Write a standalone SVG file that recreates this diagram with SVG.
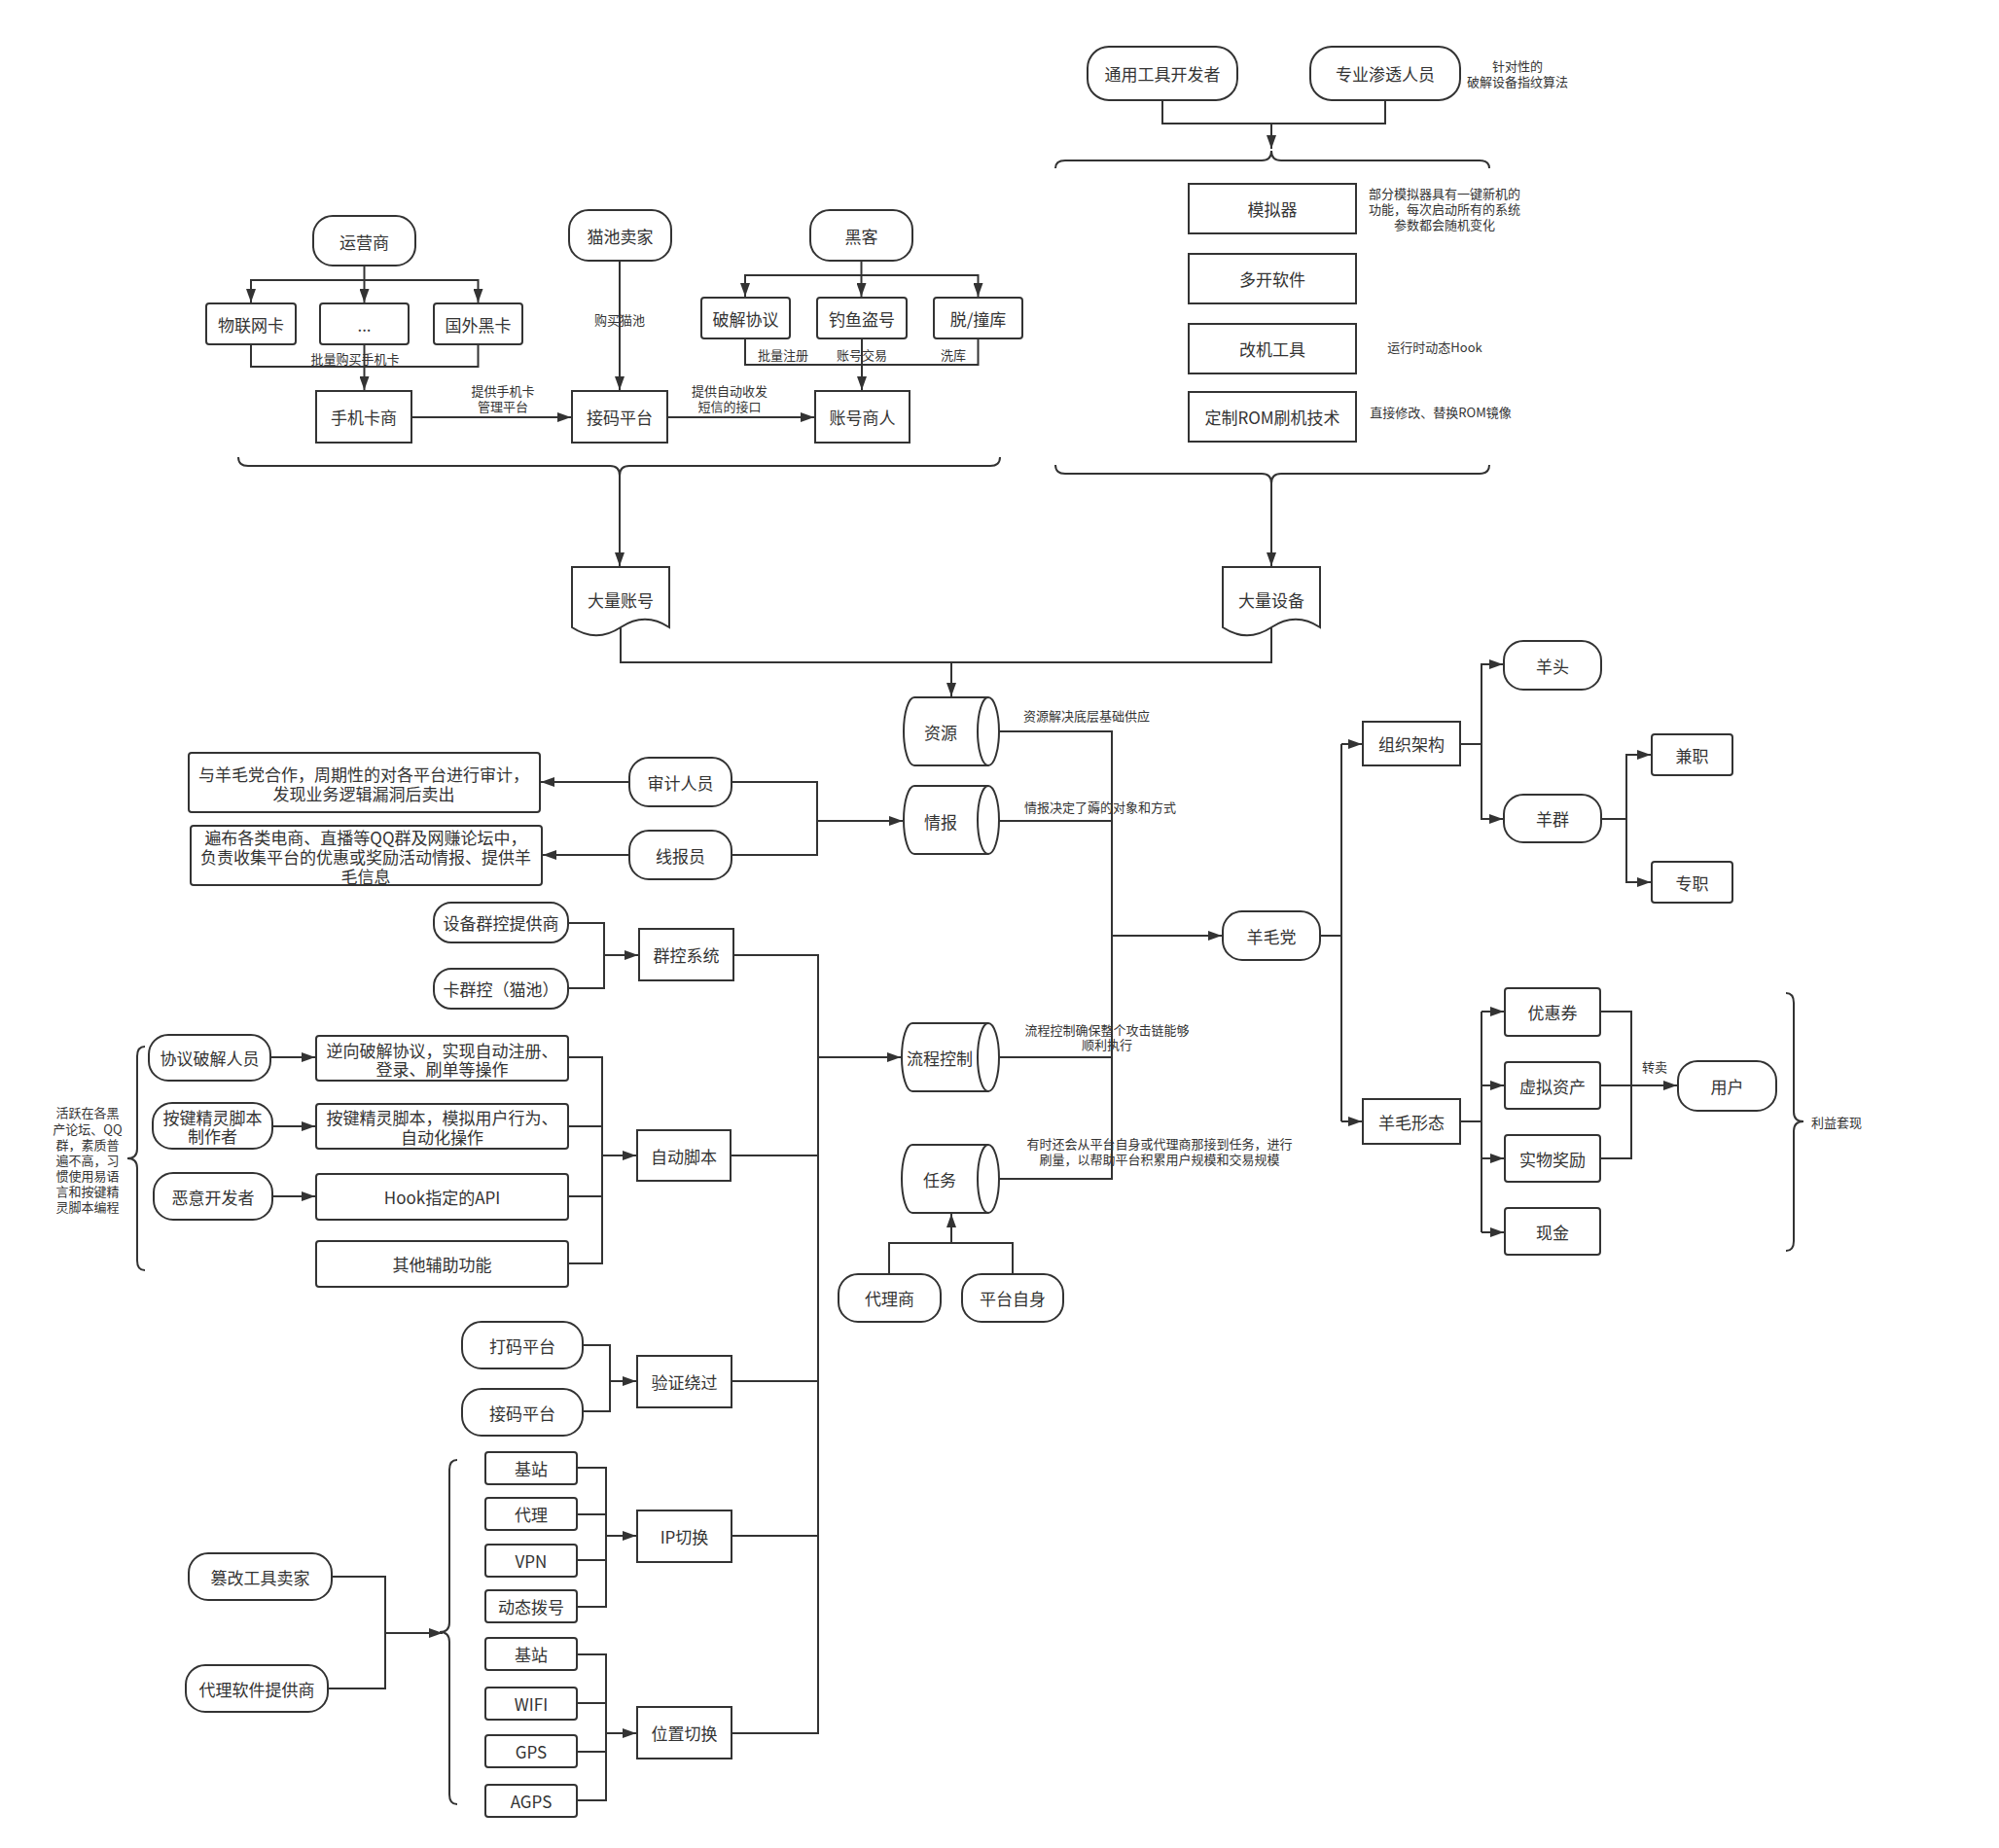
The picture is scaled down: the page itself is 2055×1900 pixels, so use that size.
<svg xmlns="http://www.w3.org/2000/svg" width="2055" height="1900" viewBox="0 0 2055 1900">
<style>
.n{fill:#fff;stroke:#333;stroke-width:2}
.c{fill:none;stroke:#333;stroke-width:2}
.t{font-family:"Noto Sans CJK SC","Open Sans",sans-serif;font-size:17px;fill:#333;text-anchor:middle;dominant-baseline:central}
.t tspan{dominant-baseline:central}
.s{font-size:13px}
</style>
<defs>
<marker id="a" markerUnits="userSpaceOnUse" markerWidth="14" markerHeight="10" viewBox="0 0 14 10" refX="14" refY="5" orient="auto"><path d="M0,0 L14,5 L0,10 Z" fill="#333"/></marker>
</defs>
<rect width="2055" height="1900" fill="#fff"/>

<g id="connectors">
<path class="c" d="M374.5,273 V311" marker-end="url(#a)"/>
<path class="c" d="M374.5,288 H258 V311" marker-end="url(#a)"/>
<path class="c" d="M374.5,288 H491.5 V311" marker-end="url(#a)"/>
<path class="c" d="M258,354 V377 H491.5 V354"/>
<path class="c" d="M374.5,354 V401" marker-end="url(#a)"/>
<path class="c" d="M423,429 H587" marker-end="url(#a)"/>
<path class="c" d="M637,268 V401" marker-end="url(#a)"/>
<path class="c" d="M686,429 H837" marker-end="url(#a)"/>
<path class="c" d="M885.5,268 V305" marker-end="url(#a)"/>
<path class="c" d="M885.5,283 H766 V305" marker-end="url(#a)"/>
<path class="c" d="M885.5,283 H1005.5 V305" marker-end="url(#a)"/>
<path class="c" d="M766,348 V375 H1005.5 V348"/>
<path class="c" d="M886,348 V401" marker-end="url(#a)"/>
<path class="c" d="M245,470 Q245,479 255,479 L627,479 Q637,479 637,489 Q637,479 647,479 L1018,479 Q1028,479 1028,470"/>
<path class="c" d="M637,489 V582" marker-end="url(#a)"/>
<path class="c" d="M1195,103 V127 H1424 V103"/>
<path class="c" d="M1307,127 V153" marker-end="url(#a)"/>
<path class="c" d="M1085,173 Q1085,165 1095,165 L1297,165 Q1307,165 1307,155 Q1307,165 1317,165 L1521,165 Q1531,165 1531,173"/>
<path class="c" d="M1085,478 Q1085,487 1095,487 L1297,487 Q1307,487 1307,497 Q1307,487 1317,487 L1521,487 Q1531,487 1531,478"/>
<path class="c" d="M1307,497 V582" marker-end="url(#a)"/>
<path class="c" d="M638,645 V681 H1307 V645"/>
<path class="c" d="M978,681 V716" marker-end="url(#a)"/>
<path class="c" d="M1027,752 H1143 V1212 H1027"/>
<path class="c" d="M1027,844 H1143"/>
<path class="c" d="M1027,1087 H1143"/>
<path class="c" d="M1143,962 H1256" marker-end="url(#a)"/>
<path class="c" d="M647,804 H556" marker-end="url(#a)"/>
<path class="c" d="M647,879 H558" marker-end="url(#a)"/>
<path class="c" d="M752,804 H840 V879 H752"/>
<path class="c" d="M840,844 H928" marker-end="url(#a)"/>
<path class="c" d="M584,949 H621 V1016 H584"/>
<path class="c" d="M621,982 H656" marker-end="url(#a)"/>
<path class="c" d="M754,982 H841 V1782 H752"/>
<path class="c" d="M841,1087 H926" marker-end="url(#a)"/>
<path class="c" d="M278,1087 H324" marker-end="url(#a)"/>
<path class="c" d="M280,1158 H324" marker-end="url(#a)"/>
<path class="c" d="M280,1230 H324" marker-end="url(#a)"/>
<path class="c" d="M584,1087 H619 V1299 H584"/>
<path class="c" d="M584,1158 H619"/>
<path class="c" d="M584,1230 H619"/>
<path class="c" d="M619,1188 H654" marker-end="url(#a)"/>
<path class="c" d="M751,1188 H841"/>
<path class="c" d="M149,1076 Q141,1076 141,1086 L141,1181 Q141,1191 131,1191 Q141,1191 141,1201 L141,1296 Q141,1306 149,1306"/>
<path class="c" d="M599,1383 H627 V1451 H599"/>
<path class="c" d="M627,1420 H654" marker-end="url(#a)"/>
<path class="c" d="M752,1420 H841"/>
<path class="c" d="M593,1509 H623 V1652 H593"/>
<path class="c" d="M593,1557 H623"/>
<path class="c" d="M593,1604 H623"/>
<path class="c" d="M623,1579 H654" marker-end="url(#a)"/>
<path class="c" d="M752,1579 H841"/>
<path class="c" d="M593,1701 H623 V1851 H593"/>
<path class="c" d="M593,1751 H623"/>
<path class="c" d="M593,1801 H623"/>
<path class="c" d="M623,1782 H654" marker-end="url(#a)"/>
<path class="c" d="M341,1621 H396 V1736 H337"/>
<path class="c" d="M396,1679 H455" marker-end="url(#a)"/>
<path class="c" d="M470,1501 Q462,1501 462,1511 L462,1668 Q462,1678 452,1678 Q462,1678 462,1688 L462,1845 Q462,1855 470,1855"/>
<path class="c" d="M914,1310 V1278 H1041 V1310"/>
<path class="c" d="M978,1278 V1248" marker-end="url(#a)"/>
<path class="c" d="M1357,962 H1379"/>
<path class="c" d="M1379,765 V1153"/>
<path class="c" d="M1379,765 H1400" marker-end="url(#a)"/>
<path class="c" d="M1379,1153 H1400" marker-end="url(#a)"/>
<path class="c" d="M1501,765 H1523 V683 H1545" marker-end="url(#a)"/>
<path class="c" d="M1523,765 V842 H1545" marker-end="url(#a)"/>
<path class="c" d="M1646,842 H1672 V776 H1697" marker-end="url(#a)"/>
<path class="c" d="M1672,842 V907 H1697" marker-end="url(#a)"/>
<path class="c" d="M1501,1153 H1523"/>
<path class="c" d="M1523,1040 V1267"/>
<path class="c" d="M1523,1040 H1546" marker-end="url(#a)"/>
<path class="c" d="M1523,1116 H1546" marker-end="url(#a)"/>
<path class="c" d="M1523,1191 H1546" marker-end="url(#a)"/>
<path class="c" d="M1523,1267 H1546" marker-end="url(#a)"/>
<path class="c" d="M1645,1040 H1677 V1191 H1645"/>
<path class="c" d="M1645,1116 H1724" marker-end="url(#a)"/>
<path class="c" d="M1836,1021 Q1844,1021 1844,1031 L1844,1143 Q1844,1153 1854,1153 Q1844,1153 1844,1163 L1844,1276 Q1844,1286 1836,1286"/>
</g>

<g id="labels">
<text class="t s" x="365" y="368">批量购买手机卡</text>
<text class="t s" x="637" y="328">购买猫池</text>
<text class="t s"><tspan x="517" y="401">提供手机卡</tspan><tspan x="517" y="417">管理平台</tspan></text>
<text class="t s"><tspan x="750" y="401">提供自动收发</tspan><tspan x="750" y="417">短信的接口</tspan></text>
<text class="t s" x="805" y="364">批量注册</text>
<text class="t s" x="886" y="364">账号交易</text>
<text class="t s" x="980" y="364">洗库</text>
<text class="t s"><tspan x="1560" y="67">针对性的</tspan><tspan x="1560" y="83">破解设备指纹算法</tspan></text>
<text class="t s"><tspan x="1485" y="198">部分模拟器具有一键新机的</tspan><tspan x="1485" y="214">功能，每次启动所有的系统</tspan><tspan x="1485" y="230">参数都会随机变化</tspan></text>
<text class="t s" x="1475" y="356">运行时动态Hook</text>
<text class="t s" x="1481" y="423">直接修改、替换ROM镜像</text>
<text class="t s" x="1117" y="735">资源解决底层基础供应</text>
<text class="t s" x="1131" y="829">情报决定了薅的对象和方式</text>
<text class="t s"><tspan x="1138" y="1058">流程控制确保整个攻击链能够</tspan><tspan x="1138" y="1073">顺利执行</tspan></text>
<text class="t s"><tspan x="1192" y="1175">有时还会从平台自身或代理商那接到任务，进行</tspan><tspan x="1192" y="1191">刷量，以帮助平台积累用户规模和交易规模</tspan></text>
<text class="t s" x="1701" y="1096">转卖</text>
<text class="t s" x="1888" y="1153">利益套现</text>
<text class="t s"><tspan x="90" y="1143">活跃在各黑</tspan><tspan x="90" y="1160">产论坛、QQ</tspan><tspan x="90" y="1176">群，素质普</tspan><tspan x="90" y="1192">遍不高，习</tspan><tspan x="90" y="1208">惯使用易语</tspan><tspan x="90" y="1224">言和按键精</tspan><tspan x="90" y="1240">灵脚本编程</tspan></text>
</g>

<g id="yunyingshang"><rect class="n" x="322" y="222" width="105" height="51" rx="20"/><text class="t" x="374.5" y="248">运营商</text></g>
<g id="wulianwangka"><rect class="n" x="212" y="312" width="92" height="42" rx="3"/><text class="t" x="258" y="333">物联网卡</text></g>
<g id="dots"><rect class="n" x="329" y="312" width="91" height="42" rx="3"/><text class="t" x="374.5" y="333">...</text></g>
<g id="guowaiheika"><rect class="n" x="446" y="312" width="91" height="42" rx="3"/><text class="t" x="491.5" y="333">国外黑卡</text></g>
<g id="shoujikashang"><rect class="n" x="325" y="402" width="98" height="53"/><text class="t" x="374" y="428.5">手机卡商</text></g>
<g id="maochimaijia"><rect class="n" x="585" y="216" width="105" height="52" rx="20"/><text class="t" x="637.5" y="242">猫池卖家</text></g>
<g id="jiemapingtai"><rect class="n" x="588" y="402" width="98" height="53"/><text class="t" x="637" y="428.5">接码平台</text></g>
<g id="heike"><rect class="n" x="833" y="216" width="105" height="52" rx="20"/><text class="t" x="885.5" y="242">黑客</text></g>
<g id="pojiexieyi"><rect class="n" x="721" y="306" width="91" height="42" rx="3"/><text class="t" x="766.5" y="327">破解协议</text></g>
<g id="diaoyudaohao"><rect class="n" x="840" y="306" width="92" height="42" rx="3"/><text class="t" x="886" y="327">钓鱼盗号</text></g>
<g id="tuozhuangku"><rect class="n" x="960" y="306" width="91" height="42" rx="3"/><text class="t" x="1005.5" y="327">脱/撞库</text></g>
<g id="zhanghaoshangren"><rect class="n" x="838" y="402" width="97" height="53"/><text class="t" x="886.5" y="428.5">账号商人</text></g>

<g id="tongyonggongju"><rect class="n" x="1118" y="48" width="154" height="55" rx="22"/><text class="t" x="1195" y="75.5">通用工具开发者</text></g>
<g id="zhuanyeshentou"><rect class="n" x="1347" y="48" width="154" height="55" rx="22"/><text class="t" x="1424" y="75.5">专业渗透人员</text></g>
<g id="moniqi"><rect class="n" x="1222" y="189" width="172" height="51"/><text class="t" x="1308" y="214.5">模拟器</text></g>
<g id="duokai"><rect class="n" x="1222" y="261" width="172" height="51"/><text class="t" x="1308" y="286.5">多开软件</text></g>
<g id="gaiji"><rect class="n" x="1222" y="333" width="172" height="51"/><text class="t" x="1308" y="358.5">改机工具</text></g>
<g id="rom"><rect class="n" x="1222" y="403" width="172" height="51"/><text class="t" x="1308" y="428.5">定制ROM刷机技术</text></g>

<g id="daliangzhanghao"><path class="n" d="M588,583 H688 V645 Q663,628.5 638,645 Q613,661.5 588,645 Z"/><text class="t" x="638" y="616">大量账号</text></g>
<g id="daliangshebei"><path class="n" d="M1257,583 H1357 V645 Q1332,628.5 1307,645 Q1282,661.5 1257,645 Z"/><text class="t" x="1307" y="616">大量设备</text></g>

<g id="ziyuan"><path class="n" d="M940,717 H1016 A11,35 0 0 1 1016,787 H940 A11,35 0 0 1 940,717 Z"/><path class="c" d="M1016,717 A11,35 0 0 0 1016,787"/><text class="t" x="967" y="752">资源</text></g>
<g id="qingbao"><path class="n" d="M940,808 H1016 A11,35 0 0 1 1016,878 H940 A11,35 0 0 1 940,808 Z"/><path class="c" d="M1016,808 A11,35 0 0 0 1016,878"/><text class="t" x="967" y="844">情报</text></g>
<g id="liuchengkongzhi"><path class="n" d="M938,1052 H1016 A11,35 0 0 1 1016,1122 H938 A11,35 0 0 1 938,1052 Z"/><path class="c" d="M1016,1052 A11,35 0 0 0 1016,1122"/><text class="t" x="966" y="1087">流程控制</text></g>
<g id="renwu"><path class="n" d="M938,1177 H1016 A11,35 0 0 1 1016,1247 H938 A11,35 0 0 1 938,1177 Z"/><path class="c" d="M1016,1177 A11,35 0 0 0 1016,1247"/><text class="t" x="966" y="1212">任务</text></g>

<g id="shenjirenyuan"><rect class="n" x="647" y="779" width="105" height="50" rx="20"/><text class="t" x="699.5" y="804">审计人员</text></g>
<g id="xianbaoyuan"><rect class="n" x="647" y="854" width="105" height="50" rx="20"/><text class="t" x="699.5" y="879">线报员</text></g>
<g id="shenji-desc"><rect class="n" x="194" y="774" width="361" height="61" rx="3"/><text class="t"><tspan x="374" y="795">与羊毛党合作，周期性的对各平台进行审计，</tspan><tspan x="374" y="815">发现业务逻辑漏洞后卖出</tspan></text></g>
<g id="xianbao-desc"><rect class="n" x="196" y="849" width="361" height="61" rx="3"/><text class="t"><tspan x="376" y="860">遍布各类电商、直播等QQ群及网赚论坛中，</tspan><tspan x="376" y="880">负责收集平台的优惠或奖励活动情报、提供羊</tspan><tspan x="376" y="900">毛信息</tspan></text></g>

<g id="shebeiqunkong"><rect class="n" x="446" y="928" width="138" height="41" rx="18"/><text class="t" x="515" y="948.5">设备群控提供商</text></g>
<g id="kaqunkong"><rect class="n" x="446" y="996" width="138" height="41" rx="18"/><text class="t" x="515" y="1016.5">卡群控（猫池）</text></g>
<g id="qunkongxitong"><rect class="n" x="657" y="955" width="97" height="53"/><text class="t" x="705.5" y="981.5">群控系统</text></g>

<g id="xieyipojie"><rect class="n" x="153" y="1064" width="125" height="47" rx="20"/><text class="t" x="215.5" y="1087.5">协议破解人员</text></g>
<g id="anjianjingling"><rect class="n" x="157" y="1134" width="123" height="47" rx="20"/><text class="t"><tspan x="218.5" y="1148">按键精灵脚本</tspan><tspan x="218.5" y="1167">制作者</tspan></text></g>
<g id="eyikaifa"><rect class="n" x="158" y="1206" width="122" height="48" rx="20"/><text class="t" x="219" y="1230">恶意开发者</text></g>
<g id="nixiang"><rect class="n" x="325" y="1065" width="259" height="46" rx="3"/><text class="t"><tspan x="454.5" y="1078.5">逆向破解协议，实现自动注册、</tspan><tspan x="454.5" y="1098">登录、刷单等操作</tspan></text></g>
<g id="anjian-desc"><rect class="n" x="325" y="1135" width="259" height="46" rx="3"/><text class="t"><tspan x="454.5" y="1148">按键精灵脚本，模拟用户行为、</tspan><tspan x="454.5" y="1167.5">自动化操作</tspan></text></g>
<g id="hook"><rect class="n" x="325" y="1207" width="259" height="47" rx="3"/><text class="t" x="454.5" y="1230.5">Hook指定的API</text></g>
<g id="qita"><rect class="n" x="325" y="1276" width="259" height="47" rx="3"/><text class="t" x="454.5" y="1299.5">其他辅助功能</text></g>
<g id="zidongjiaoben"><rect class="n" x="655" y="1162" width="96" height="52"/><text class="t" x="703" y="1188">自动脚本</text></g>

<g id="damapingtai"><rect class="n" x="475" y="1359" width="124" height="48" rx="20"/><text class="t" x="537" y="1383">打码平台</text></g>
<g id="jiemapingtai2"><rect class="n" x="475" y="1428" width="124" height="48" rx="20"/><text class="t" x="537" y="1452">接码平台</text></g>
<g id="yanzhengraoguo"><rect class="n" x="655" y="1394" width="97" height="53"/><text class="t" x="703.5" y="1420.5">验证绕过</text></g>

<g id="jizhan1"><rect class="n" x="499" y="1493" width="94" height="33" rx="3"/><text class="t" x="546" y="1509.5">基站</text></g>
<g id="daili"><rect class="n" x="499" y="1540" width="94" height="33" rx="3"/><text class="t" x="546" y="1556.5">代理</text></g>
<g id="vpn"><rect class="n" x="499" y="1588" width="94" height="33" rx="3"/><text class="t" x="546" y="1604.5">VPN</text></g>
<g id="dongtaibohao"><rect class="n" x="499" y="1635" width="94" height="33" rx="3"/><text class="t" x="546" y="1651.5">动态拨号</text></g>
<g id="ipqiehuan"><rect class="n" x="655" y="1553" width="97" height="53"/><text class="t" x="703.5" y="1579.5">IP切换</text></g>

<g id="jizhan2"><rect class="n" x="499" y="1684" width="94" height="33" rx="3"/><text class="t" x="546" y="1700.5">基站</text></g>
<g id="wifi"><rect class="n" x="499" y="1735" width="94" height="33" rx="3"/><text class="t" x="546" y="1751.5">WIFI</text></g>
<g id="gps"><rect class="n" x="499" y="1784" width="94" height="33" rx="3"/><text class="t" x="546" y="1800.5">GPS</text></g>
<g id="agps"><rect class="n" x="499" y="1835" width="94" height="33" rx="3"/><text class="t" x="546" y="1851.5">AGPS</text></g>
<g id="weizhiqiehuan"><rect class="n" x="655" y="1755" width="97" height="53"/><text class="t" x="703.5" y="1781.5">位置切换</text></g>

<g id="cuangai"><rect class="n" x="194" y="1597" width="147" height="48" rx="20"/><text class="t" x="267.5" y="1621">篡改工具卖家</text></g>
<g id="dailiruanjian"><rect class="n" x="191" y="1712" width="146" height="48" rx="20"/><text class="t" x="264" y="1736">代理软件提供商</text></g>

<g id="dailishang"><rect class="n" x="862" y="1310" width="105" height="49" rx="20"/><text class="t" x="914.5" y="1334.5">代理商</text></g>
<g id="pingtaizishen"><rect class="n" x="989" y="1310" width="104" height="49" rx="20"/><text class="t" x="1041" y="1334.5">平台自身</text></g>

<g id="yangmaodang"><rect class="n" x="1257" y="937" width="100" height="50" rx="20"/><text class="t" x="1307" y="962">羊毛党</text></g>
<g id="zuzhijiagou"><rect class="n" x="1401" y="742" width="100" height="45"/><text class="t" x="1451" y="764.5">组织架构</text></g>
<g id="yangmaoxingtai"><rect class="n" x="1401" y="1130" width="100" height="46"/><text class="t" x="1451" y="1153">羊毛形态</text></g>
<g id="yangtou"><rect class="n" x="1546" y="659" width="100" height="50" rx="20"/><text class="t" x="1596" y="684">羊头</text></g>
<g id="yangqun"><rect class="n" x="1546" y="817" width="100" height="49" rx="20"/><text class="t" x="1596" y="841.5">羊群</text></g>
<g id="jianzhi"><rect class="n" x="1698" y="755" width="83" height="42" rx="3"/><text class="t" x="1739.5" y="776">兼职</text></g>
<g id="zhuanzhi"><rect class="n" x="1698" y="886" width="83" height="42" rx="3"/><text class="t" x="1739.5" y="907">专职</text></g>
<g id="youhuiquan"><rect class="n" x="1547" y="1016" width="98" height="49" rx="3"/><text class="t" x="1596" y="1040.5">优惠券</text></g>
<g id="xunizichan"><rect class="n" x="1547" y="1092" width="98" height="48" rx="3"/><text class="t" x="1596" y="1116">虚拟资产</text></g>
<g id="shiwujiangli"><rect class="n" x="1547" y="1167" width="98" height="48" rx="3"/><text class="t" x="1596" y="1191">实物奖励</text></g>
<g id="xianjin"><rect class="n" x="1547" y="1242" width="98" height="48" rx="3"/><text class="t" x="1596" y="1266">现金</text></g>
<g id="yonghu"><rect class="n" x="1725" y="1091" width="101" height="51" rx="20"/><text class="t" x="1775.5" y="1116.5">用户</text></g>
</svg>
